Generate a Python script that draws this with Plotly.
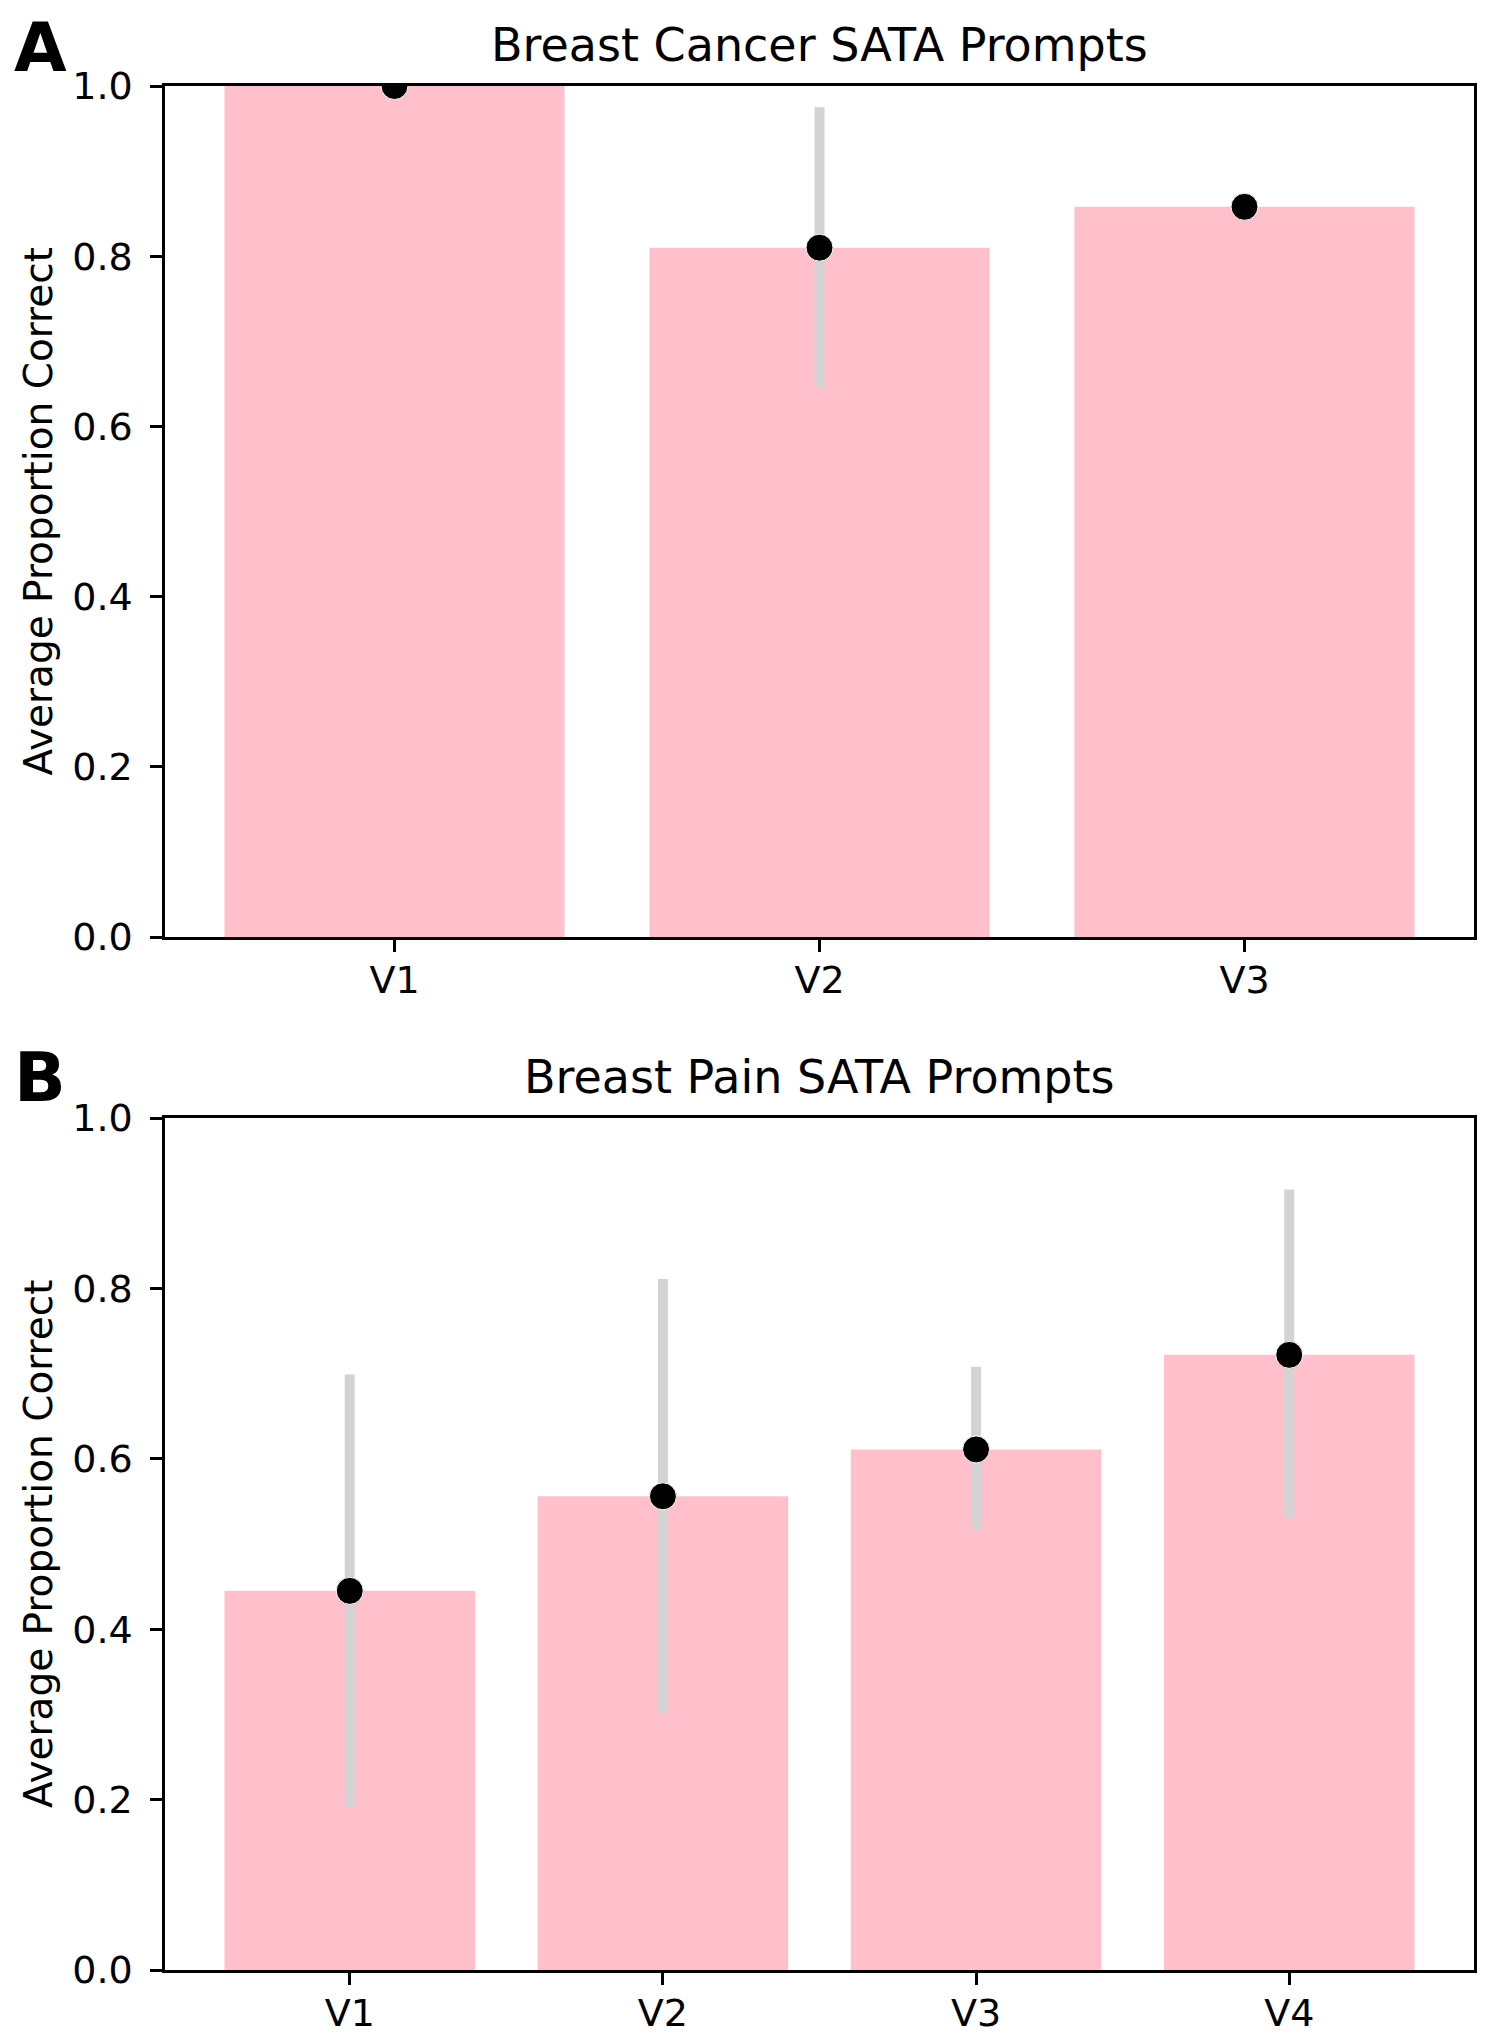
import plotly.graph_objects as go

# ---- data ----
categories_a = ["V1", "V2", "V3"]
means_a = [1.0, 0.81, 0.858]
ci_low_a = [1.0, 0.645, 0.858]
ci_high_a = [1.0, 0.975, 0.858]

categories_b = ["V1", "V2", "V3", "V4"]
means_b = [0.445, 0.556, 0.611, 0.722]
ci_low_b = [0.192, 0.302, 0.516, 0.531]
ci_high_b = [0.699, 0.811, 0.708, 0.916]

y_ticks = [0.0, 0.2, 0.4, 0.6, 0.8, 1.0]

title_a = "Breast Cancer SATA Prompts"
title_b = "Breast Pain SATA Prompts"
y_label = "Average Proportion Correct"

# ---- style ----
W, H = 1490, 2040
OFF = 8  # page body margin
PINK = "#FFC0CB"
GRAY = "#D3D3D3"
FONT = "DejaVu Sans"


def px_x(v):
    return (v - OFF) / W


def px_y(v):
    return 1 - (v - OFF) / H


x_dom = [px_x(165), px_x(1474)]
ya_dom = [px_y(937), px_y(86)]
yb_dom = [px_y(1970), px_y(1118)]

fig = go.Figure()


def add_panel(cats, means, lo, hi, xa, ya):
    fig.add_trace(go.Bar(x=cats, y=means, marker=dict(color=PINK, line=dict(width=0)),
                         width=0.8, xaxis=xa, yaxis=ya, showlegend=False))
    fig.add_trace(go.Scatter(
        x=cats, y=means, mode="markers",
        marker=dict(size=1, color="rgba(0,0,0,0)"),
        error_y=dict(type="data", symmetric=False,
                     array=[h - m for h, m in zip(hi, means)],
                     arrayminus=[m - l for m, l in zip(means, lo)],
                     color=GRAY, thickness=10, width=0),
        xaxis=xa, yaxis=ya, showlegend=False))
    fig.add_trace(go.Scatter(
        x=cats, y=means, mode="markers",
        marker=dict(size=27, color="black", line=dict(color="white", width=1)),
        xaxis=xa, yaxis=ya, showlegend=False))


add_panel(categories_a, means_a, ci_low_a, ci_high_a, "x", "y")
add_panel(categories_b, means_b, ci_low_b, ci_high_b, "x2", "y2")

axis_common = dict(showline=True, linecolor="black", linewidth=2.5, mirror=True,
                   ticks="outside", ticklen=12, tickwidth=2.5, tickcolor="black",
                   showgrid=False, zeroline=False, automargin=False,
                   tickfont=dict(family=FONT, size=38, color="black"))

fig.update_layout(
    width=W, height=H,
    margin=dict(l=0, r=0, t=0, b=0, autoexpand=False),
    paper_bgcolor="white", plot_bgcolor="white",
    bargap=0.2,
    xaxis=dict(domain=x_dom, anchor="y", type="category",
               range=[-0.54, 2.54], ticklabelstandoff=-4, **axis_common),
    yaxis=dict(domain=ya_dom, anchor="x", range=[0, 1.0], tickvals=y_ticks,
               tickformat=".1f", ticklabelstandoff=10, **axis_common),
    xaxis2=dict(domain=x_dom, anchor="y2", type="category",
                range=[-0.59, 3.59], ticklabelstandoff=-4, **axis_common),
    yaxis2=dict(domain=yb_dom, anchor="x2", range=[0, 1.0], tickvals=y_ticks,
                tickformat=".1f", ticklabelstandoff=10, **axis_common),
)

ann = []
for dom, top_px, ttl, letter, ly in [(ya_dom, 86, title_a, "A", 47),
                                     (yb_dom, 1118, title_b, "B", 1077)]:
    ann.append(dict(text=ttl, x=(x_dom[0] + x_dom[1]) / 2, y=px_y(top_px - 41),
                    xref="paper", yref="paper", xanchor="center", yanchor="middle",
                    showarrow=False, font=dict(family=FONT, size=46, color="black")))
    ann.append(dict(text="<b>" + letter + "</b>", x=px_x(40), y=px_y(ly),
                    xref="paper", yref="paper", xanchor="center", yanchor="middle",
                    showarrow=False, borderpad=0,
                    font=dict(family=FONT, size=68, color="black")))
    ann.append(dict(text=y_label, x=px_x(38), y=(dom[0] + dom[1]) / 2,
                    xref="paper", yref="paper", xanchor="center", yanchor="middle",
                    textangle=-90, showarrow=False,
                    font=dict(family=FONT, size=39, color="black")))
fig.update_layout(annotations=ann)

fig.write_html("out.html")
